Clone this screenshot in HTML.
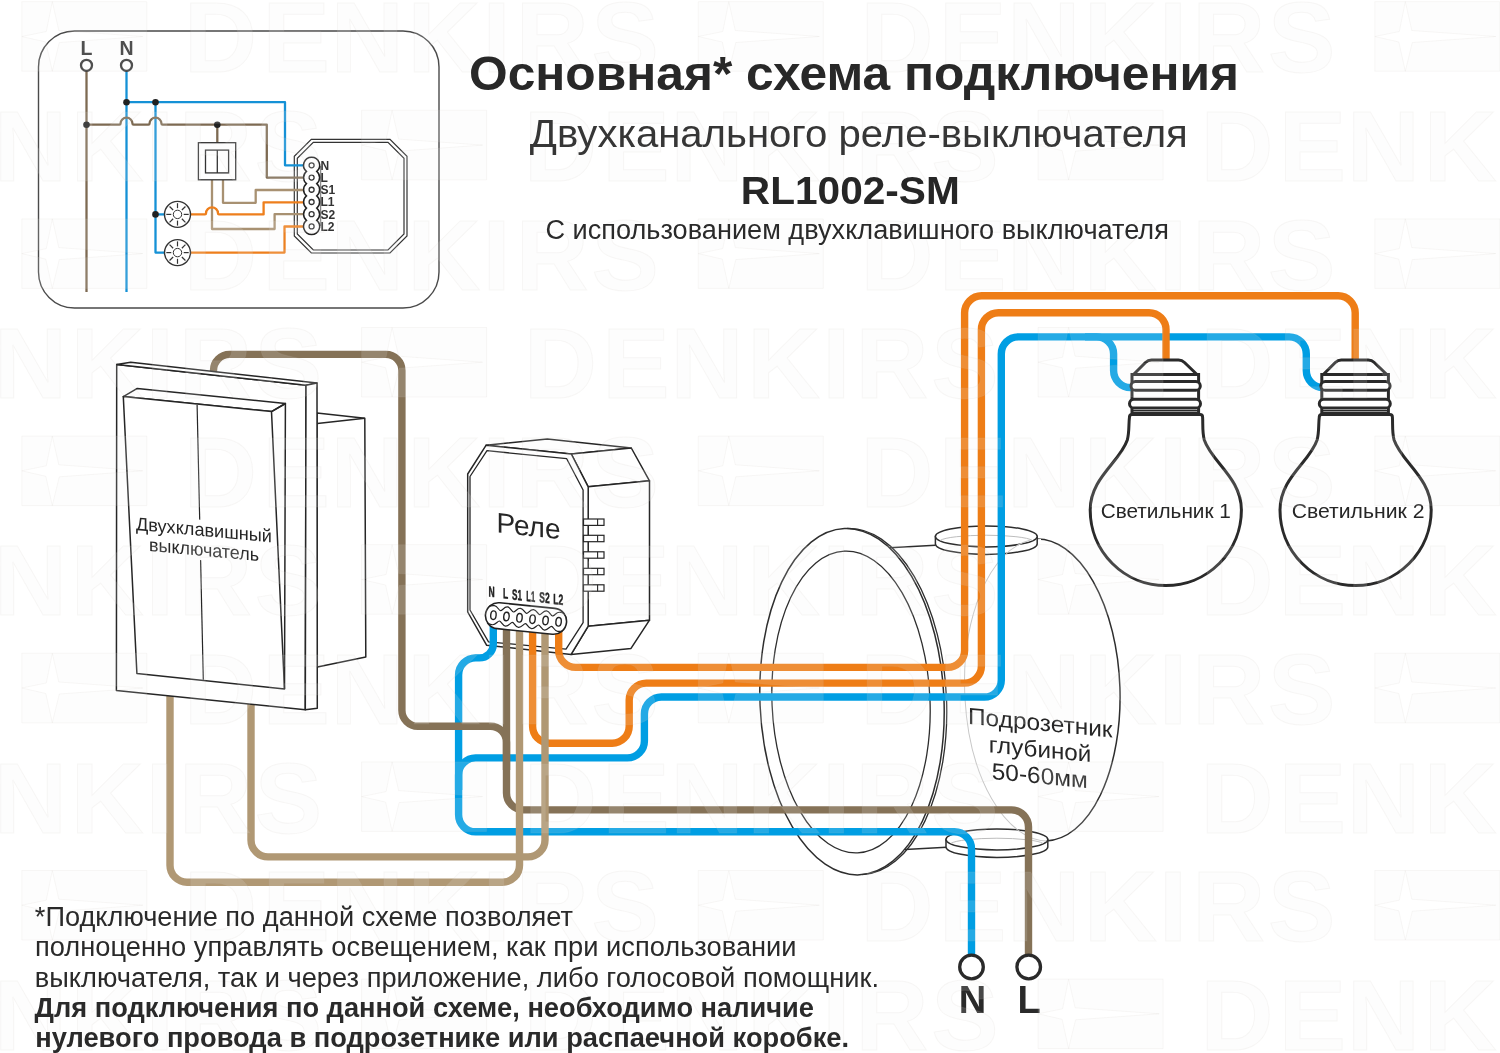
<!DOCTYPE html>
<html><head><meta charset="utf-8"><style>
html,body{margin:0;padding:0;background:#fff;overflow:hidden;}
svg{display:block;font-family:"Liberation Sans",sans-serif;will-change:transform;}
</style></head><body>
<svg width="1500" height="1053" viewBox="0 0 1500 1053">
<rect width="1500" height="1053" fill="#ffffff"/>
<rect x="38.5" y="31" width="400.5" height="277" rx="36" fill="#fff" stroke="#4a4a4a" stroke-width="1.4"/>
<path d="M311.3,139.3 H390 L407,156.3 V236 L390,253 H311.3 L294.3,236 V156.3 Z" fill="#fff" stroke="#333" stroke-width="1.2"/>
<path d="M313.3,142.3 H388 L404,158.3 V234 L388,250 H313.3 L297.3,234 V158.3 Z" fill="none" stroke="#333" stroke-width="1.2"/>
<path d="M86.5,71 V292" stroke="#7d6a52" stroke-width="2.3" fill="none" stroke-linejoin="round"/>
<path d="M126.5,71 V292" stroke="#1591d6" stroke-width="2.3" fill="none" stroke-linejoin="round"/>
<path d="M126.5,102.2 H285 V165.3 H304" stroke="#1591d6" stroke-width="2.3" fill="none" stroke-linejoin="round"/>
<path d="M155.5,102.2 V252.6 H165" stroke="#1591d6" stroke-width="2.3" fill="none" stroke-linejoin="round"/>
<path d="M155.5,214.4 H165" stroke="#1591d6" stroke-width="2.3" fill="none" stroke-linejoin="round"/>
<path d="M86.5,124.7 H119.5 Q120.5,124.7 120.5,123.7 A6.0,6.0 0 0 1 132.5,123.7 Q132.5,124.7 133.5,124.7 H148.5 Q149.5,124.7 149.5,123.7 A6.0,6.0 0 0 1 161.5,123.7 Q161.5,124.7 162.5,124.7 H266.8 V177.6 H304" stroke="#7d6a52" stroke-width="2.3" fill="none" stroke-linejoin="round"/>
<path d="M217.3,124.7 V142.7" stroke="#7d6a52" stroke-width="2.3" fill="none" stroke-linejoin="round"/>
<path d="M212,179.8 V229 H274.6 V214.2 H304" stroke="#a89172" stroke-width="2.3" fill="none" stroke-linejoin="round"/>
<path d="M223,179.8 V202.8 H255.7 V190 H304" stroke="#a89172" stroke-width="2.3" fill="none" stroke-linejoin="round"/>
<path d="M190,214.4 H205.0 Q206.0,214.4 206.0,213.4 A6.0,6.0 0 0 1 218.0,213.4 Q218.0,214.4 219.0,214.4 H263.6 V202.3 H304" stroke="#ee7f1c" stroke-width="2.3" fill="none" stroke-linejoin="round"/>
<path d="M190,252.6 H284.5 V226.5 H304" stroke="#ee7f1c" stroke-width="2.3" fill="none" stroke-linejoin="round"/>
<circle cx="126.5" cy="102.2" r="3.3" fill="#222"/>
<circle cx="155.5" cy="102.2" r="3.3" fill="#222"/>
<circle cx="86.5" cy="124.7" r="3.3" fill="#222"/>
<circle cx="217.3" cy="124.7" r="3.3" fill="#222"/>
<circle cx="155.5" cy="214.4" r="3.3" fill="#222"/>
<circle cx="86.5" cy="65.3" r="5.5" fill="#fff" stroke="#333" stroke-width="2.3"/>
<text x="86.5" y="55.2" font-size="19.5" font-weight="700" text-anchor="middle" fill="#333">L</text>
<circle cx="126.5" cy="65.3" r="5.5" fill="#fff" stroke="#333" stroke-width="2.3"/>
<text x="126.5" y="55.2" font-size="19.5" font-weight="700" text-anchor="middle" fill="#333">N</text>
<rect x="198.4" y="142.7" width="37.3" height="37.1" fill="#fff" stroke="#333" stroke-width="1.3"/>
<rect x="205.5" y="150.1" width="23.1" height="22.8" fill="#fff" stroke="#333" stroke-width="1.3"/>
<path d="M217.3,150.1 V172.9" stroke="#333" stroke-width="1.3"/>
<circle cx="177.5" cy="214.4" r="13" fill="#fff" stroke="#333" stroke-width="1.4"/>
<circle cx="177.5" cy="214.4" r="4.2" fill="none" stroke="#333" stroke-width="1"/>
<path d="M183.70,214.40 L188.70,214.40" stroke="#333" stroke-width="1.2"/>
<path d="M181.88,218.78 L185.42,222.32" stroke="#333" stroke-width="1.2"/>
<path d="M177.50,220.60 L177.50,225.60" stroke="#333" stroke-width="1.2"/>
<path d="M173.12,218.78 L169.58,222.32" stroke="#333" stroke-width="1.2"/>
<path d="M171.30,214.40 L166.30,214.40" stroke="#333" stroke-width="1.2"/>
<path d="M173.12,210.02 L169.58,206.48" stroke="#333" stroke-width="1.2"/>
<path d="M177.50,208.20 L177.50,203.20" stroke="#333" stroke-width="1.2"/>
<path d="M181.88,210.02 L185.42,206.48" stroke="#333" stroke-width="1.2"/>
<circle cx="177.5" cy="252.6" r="13" fill="#fff" stroke="#333" stroke-width="1.4"/>
<circle cx="177.5" cy="252.6" r="4.2" fill="none" stroke="#333" stroke-width="1"/>
<path d="M183.70,252.60 L188.70,252.60" stroke="#333" stroke-width="1.2"/>
<path d="M181.88,256.98 L185.42,260.52" stroke="#333" stroke-width="1.2"/>
<path d="M177.50,258.80 L177.50,263.80" stroke="#333" stroke-width="1.2"/>
<path d="M173.12,256.98 L169.58,260.52" stroke="#333" stroke-width="1.2"/>
<path d="M171.30,252.60 L166.30,252.60" stroke="#333" stroke-width="1.2"/>
<path d="M173.12,248.22 L169.58,244.68" stroke="#333" stroke-width="1.2"/>
<path d="M177.50,246.40 L177.50,241.40" stroke="#333" stroke-width="1.2"/>
<path d="M181.88,248.22 L185.42,244.68" stroke="#333" stroke-width="1.2"/>
<path d="M320.6,166 V226" stroke="#8a8a8a" stroke-width="1.3"/>
<path d="M311.6,157.3 A8.0,8.0 0 0 1 316.76,171.42 A8.0,8.0 0 0 1 316.76,183.64 A8.0,8.0 0 0 1 316.76,195.88 A8.0,8.0 0 0 1 316.76,208.11 A8.0,8.0 0 0 1 316.76,220.34 A8.0,8.0 0 0 1 311.6,234.45000000000002 A8.0,8.0 0 0 1 306.44,220.34 A8.0,8.0 0 0 1 306.44,208.11 A8.0,8.0 0 0 1 306.44,195.88 A8.0,8.0 0 0 1 306.44,183.65 A8.0,8.0 0 0 1 306.44,171.42 A8.0,8.0 0 0 1 311.6,157.3 Z" fill="#fff" stroke="#222" stroke-width="1.5"/>
<circle cx="311.6" cy="165.30" r="2.5" fill="#fff" stroke="#333" stroke-width="1.3"/>
<text x="320.5" y="169.70" font-size="12" font-weight="700" fill="#333">N</text>
<circle cx="311.6" cy="177.53" r="2.5" fill="#fff" stroke="#333" stroke-width="1.3"/>
<text x="320.5" y="181.93" font-size="12" font-weight="700" fill="#333">L</text>
<circle cx="311.6" cy="189.76" r="2.5" fill="#fff" stroke="#333" stroke-width="1.3"/>
<text x="320.5" y="194.16" font-size="12" font-weight="700" fill="#333">S1</text>
<circle cx="311.6" cy="201.99" r="2.5" fill="#fff" stroke="#333" stroke-width="1.3"/>
<text x="320.5" y="206.39" font-size="12" font-weight="700" fill="#333">L1</text>
<circle cx="311.6" cy="214.22" r="2.5" fill="#fff" stroke="#333" stroke-width="1.3"/>
<text x="320.5" y="218.62" font-size="12" font-weight="700" fill="#333">S2</text>
<circle cx="311.6" cy="226.45" r="2.5" fill="#fff" stroke="#333" stroke-width="1.3"/>
<text x="320.5" y="230.85" font-size="12" font-weight="700" fill="#333">L2</text>
<g transform="rotate(-2 1041 690)"><path d="M1041,539 A79,151 0 0 1 1041,841" fill="#fff" stroke="#2e2e2e" stroke-width="1.5"/><path d="M1041,539 A79,151 0 0 0 1041,841" fill="none" stroke="#c4c4c4" stroke-width="1"/></g>
<path d="M880,548 L936,545 L1041,539 L1047,841 L946.5,847.5 L905,850 Z" fill="#fff" stroke="none"/>
<path d="M885,548 L935.5,545.3" stroke="#2e2e2e" stroke-width="1.5"/>
<path d="M905,849.6 L946.5,847.3" stroke="#2e2e2e" stroke-width="1.5"/>
<path d="M935.4,536.4 V543.9 A50.9,10.5 0 0 0 1037.2,543.9 V536.4 Z" fill="#fff" stroke="#2e2e2e" stroke-width="1.5"/>
<ellipse cx="986.3" cy="536.4" rx="50.9" ry="10.5" fill="#fff" stroke="#2e2e2e" stroke-width="1.5"/>
<path d="M940.3,540.4 A47,6.5 0 0 1 1032.3,540.4" fill="none" stroke="#bdbdbd" stroke-width="1"/>
<path d="M946.0,839.4 V846.9 A50.9,10.5 0 0 0 1047.8,846.9 V839.4 Z" fill="#fff" stroke="#2e2e2e" stroke-width="1.5"/>
<ellipse cx="996.9" cy="839.4" rx="50.9" ry="10.5" fill="#fff" stroke="#2e2e2e" stroke-width="1.5"/>
<path d="M950.9,843.4 A47,6.5 0 0 1 1042.9,843.4" fill="none" stroke="#bdbdbd" stroke-width="1"/>
<g transform="rotate(-2 1041 690)"><path d="M1035,540 A79,151 0 0 0 1041,841" fill="none" stroke="#c8c8c8" stroke-width="1"/></g>
<g transform="rotate(-2.5 852 701.7)"><ellipse cx="852" cy="701.7" rx="92" ry="173.3" fill="#fff" stroke="#2e2e2e" stroke-width="1.5"/><path d="M852,528.4 A92,173.3 0 0 1 852,875" transform="translate(2.6,0)" fill="none" stroke="#2e2e2e" stroke-width="1.3"/><ellipse cx="851" cy="702" rx="79" ry="151" fill="none" stroke="#2e2e2e" stroke-width="1.3"/></g>
<path d="M486,445.3 L547.3,439 L631.3,448 L571.3,454 Z" fill="#fff" stroke="#262626" stroke-width="1.5" stroke-linejoin="round"/>
<path d="M571.3,454 L631.3,448 L649.5,480.8 L588.2,486.8 Z" fill="#fff" stroke="#262626" stroke-width="1.5" stroke-linejoin="round"/>
<path d="M588.2,486.8 L649.5,480.8 L649.5,620.2 L588.2,626.2 Z" fill="#fff" stroke="#262626" stroke-width="1.5" stroke-linejoin="round"/>
<path d="M588.2,626.2 L649.5,620.2 L631,648.4 L571.1,654.4 Z" fill="#fff" stroke="#262626" stroke-width="1.5" stroke-linejoin="round"/>
<path d="M467.7,474 L486,445.3 L571.3,454 L588.2,486.8 L588.2,626.2 L571.1,654.4 L486.7,645.3 L467.7,612 Z" fill="#fff" stroke="#262626" stroke-width="1.5" stroke-linejoin="round"/>
<path d="M470,476.5 L487,450.7 L566.7,458.7 L583.1,490 L583.1,622.7 L566,649.2 L488.5,641.8 L470,610 Z" fill="none" stroke="#262626" stroke-width="1.3" stroke-linejoin="round"/>
<rect x="583.5" y="519.0" width="20.5" height="6.4" fill="#fff" stroke="#262626" stroke-width="1.2"/>
<path d="M597.6,519.0 V525.4000000000001" stroke="#262626" stroke-width="1.1"/>
<rect x="583.5" y="535.3" width="20.5" height="6.4" fill="#fff" stroke="#262626" stroke-width="1.2"/>
<path d="M597.6,535.3 V541.7" stroke="#262626" stroke-width="1.1"/>
<rect x="583.5" y="551.8" width="20.5" height="6.4" fill="#fff" stroke="#262626" stroke-width="1.2"/>
<path d="M597.6,551.8 V558.2" stroke="#262626" stroke-width="1.1"/>
<rect x="583.5" y="568.3" width="20.5" height="6.4" fill="#fff" stroke="#262626" stroke-width="1.2"/>
<path d="M597.6,568.3 V574.7" stroke="#262626" stroke-width="1.1"/>
<rect x="583.5" y="584.8" width="20.5" height="6.4" fill="#fff" stroke="#262626" stroke-width="1.2"/>
<path d="M597.6,584.8 V591.2" stroke="#262626" stroke-width="1.1"/>
<text transform="translate(496.5,532.3) skewY(6)" font-size="28.2" fill="#262626" textLength="64" lengthAdjust="spacingAndGlyphs">Реле</text>
<path d="M493.3,624 L493.30,643.90 A14,14 0 0 1 479.30,657.90 L475.60,657.90 A17,17 0 0 0 458.60,674.90 L458.60,814.80 A17,17 0 0 0 475.60,831.80 L954.50,831.80 A17,17 0 0 1 971.50,848.80 L971.5,955" fill="none" stroke="#009ee3" stroke-width="7.4"/>
<path d="M458.6,790 L458.60,774.90 A17,17 0 0 1 475.60,757.90 L627.40,757.90 A17,17 0 0 0 644.40,740.90 L644.40,714.00 A17,17 0 0 1 661.40,697.00 L984.30,697.00 A17,17 0 0 0 1001.30,680.00 L1001.30,353.90 A17,17 0 0 1 1018.30,336.90 L1289.30,336.90 A17,17 0 0 1 1306.30,353.90 L1306.30,370.50 A17,17 0 0 0 1323.30,387.50 L1336,387.5" fill="none" stroke="#009ee3" stroke-width="7.4"/>
<path d="M1085,336.9 L1096.60,336.90 A17,17 0 0 1 1113.60,353.90 L1113.60,370.50 A17,17 0 0 0 1130.60,387.50 L1140,387.5" fill="none" stroke="#009ee3" stroke-width="7.4"/>
<path d="M506.5,624 L506.50,792.90 A17,17 0 0 0 523.50,809.90 L1011.50,809.90 A17,17 0 0 1 1028.50,826.90 L1028.5,955" fill="none" stroke="#857257" stroke-width="7.4"/>
<path d="M213.5,385 L213.50,370.40 A16,16 0 0 1 229.50,354.40 L385.90,354.40 A16,16 0 0 1 401.90,370.40 L401.90,710.30 A16,16 0 0 0 417.90,726.30 L490.50,726.30 A16,16 0 0 1 506.50,742.30 L506.5,770" fill="none" stroke="#857257" stroke-width="7.4"/>
<path d="M532.6,624 L532.60,726.20 A17,17 0 0 0 549.60,743.20 L612.20,743.20 A17,17 0 0 0 629.20,726.20 L629.20,700.10 A17,17 0 0 1 646.20,683.10 L964.40,683.10 A17,17 0 0 0 981.40,666.10 L981.40,329.70 A17,17 0 0 1 998.40,312.70 L1149.00,312.70 A17,17 0 0 1 1166.00,329.70 L1166,368" fill="none" stroke="#ee7d16" stroke-width="7.4"/>
<path d="M558.7,624 L558.70,650.40 A17,17 0 0 0 575.70,667.40 L947.60,667.40 A17,17 0 0 0 964.60,650.40 L964.60,312.80 A17,17 0 0 1 981.60,295.80 L1338.20,295.80 A17,17 0 0 1 1355.20,312.80 L1355.2,368" fill="none" stroke="#ee7d16" stroke-width="7.4"/>
<path d="M519.5,624 L519.50,865.20 A17,17 0 0 1 502.50,882.20 L187.00,882.20 A17,17 0 0 1 170.00,865.20 L170,680" fill="none" stroke="#b09874" stroke-width="7.4"/>
<path d="M545,624 L545.00,839.90 A17,17 0 0 1 528.00,856.90 L268.00,856.90 A17,17 0 0 1 251.00,839.90 L251,690" fill="none" stroke="#b09874" stroke-width="7.4"/>
<g transform="rotate(5.8 526 618.5)">
<rect x="485.3" y="605.5" width="81.4" height="26" rx="13" fill="#fff" stroke="#222" stroke-width="1.6"/>
<path d="M487.75,610.3 Q490.25,608.9 493.25,608.9 C496.55,608.9 497.985,613.3 499.8,613.3 C501.615,613.3 503.05,608.9 506.35,608.9 C509.65000000000003,608.9 511.0850000000001,613.3 512.9000000000001,613.3 C514.7150000000001,613.3 516.1500000000001,608.9 519.45,608.9 C522.75,608.9 524.185,613.3 526.0,613.3 C527.815,613.3 529.25,608.9 532.55,608.9 C535.8499999999999,608.9 537.2849999999999,613.3 539.0999999999999,613.3 C540.915,613.3 542.35,608.9 545.65,608.9 C548.9499999999999,608.9 550.385,613.3 552.2,613.3 C554.0150000000001,613.3 555.45,608.9 558.75,608.9 Q561.75,608.9 564.25,610.3" fill="none" stroke="#222" stroke-width="1.2"/>
<path d="M487.75,626.7 Q490.25,628.1 493.25,628.1 C496.55,628.1 497.985,623.7 499.8,623.7 C501.615,623.7 503.05,628.1 506.35,628.1 C509.65000000000003,628.1 511.0850000000001,623.7 512.9000000000001,623.7 C514.7150000000001,623.7 516.1500000000001,628.1 519.45,628.1 C522.75,628.1 524.185,623.7 526.0,623.7 C527.815,623.7 529.25,628.1 532.55,628.1 C535.8499999999999,628.1 537.2849999999999,623.7 539.0999999999999,623.7 C540.915,623.7 542.35,628.1 545.65,628.1 C548.9499999999999,628.1 550.385,623.7 552.2,623.7 C554.0150000000001,623.7 555.45,628.1 558.75,628.1 Q561.75,628.1 564.25,626.7" fill="none" stroke="#222" stroke-width="1.2"/>
<ellipse cx="493.25" cy="618.5" rx="2.7" ry="4.3" fill="none" stroke="#222" stroke-width="1.4"/>
<ellipse cx="506.35" cy="618.5" rx="2.7" ry="4.3" fill="none" stroke="#222" stroke-width="1.4"/>
<ellipse cx="519.45" cy="618.5" rx="2.7" ry="4.3" fill="none" stroke="#222" stroke-width="1.4"/>
<ellipse cx="532.55" cy="618.5" rx="2.7" ry="4.3" fill="none" stroke="#222" stroke-width="1.4"/>
<ellipse cx="545.65" cy="618.5" rx="2.7" ry="4.3" fill="none" stroke="#222" stroke-width="1.4"/>
<ellipse cx="558.75" cy="618.5" rx="2.7" ry="4.3" fill="none" stroke="#222" stroke-width="1.4"/>
</g>
<text transform="translate(491.7,596.7) skewY(5.8)" font-size="14.8" font-weight="700" fill="#222" stroke="#222" stroke-width="0.45" text-anchor="middle" textLength="6.2" lengthAdjust="spacingAndGlyphs">N</text>
<text transform="translate(505.6,598.6) skewY(5.8)" font-size="14.8" font-weight="700" fill="#222" stroke="#222" stroke-width="0.45" text-anchor="middle" textLength="5.2" lengthAdjust="spacingAndGlyphs">L</text>
<text transform="translate(517,600) skewY(5.8)" font-size="14.8" font-weight="700" fill="#222" stroke="#222" stroke-width="0.45" text-anchor="middle" textLength="10" lengthAdjust="spacingAndGlyphs">S1</text>
<text transform="translate(530.7,601.4) skewY(5.8)" font-size="14.8" font-weight="700" fill="#222" stroke="#222" stroke-width="0.45" text-anchor="middle" textLength="8.8" lengthAdjust="spacingAndGlyphs">L1</text>
<text transform="translate(544.5,602.8) skewY(5.8)" font-size="14.8" font-weight="700" fill="#222" stroke="#222" stroke-width="0.45" text-anchor="middle" textLength="10.4" lengthAdjust="spacingAndGlyphs">S2</text>
<text transform="translate(558.3,604.6) skewY(5.8)" font-size="14.8" font-weight="700" fill="#222" stroke="#222" stroke-width="0.45" text-anchor="middle" textLength="10" lengthAdjust="spacingAndGlyphs">L2</text>
<path d="M317,412.9 L364.8,418.2 L365.8,657 L317.3,667 Z" fill="#fff" stroke="#262626" stroke-width="1.5" stroke-linejoin="round"/>
<path d="M317.3,423.6 L364.8,418.2" stroke="#262626" stroke-width="1.5"/>
<path d="M116.7,364.4 L306,385.2 L305.3,709.7 L116.4,690.6 Z" fill="#fff" stroke="#262626" stroke-width="1.5" stroke-linejoin="round"/>
<path d="M116.7,364.4 L130.7,362.2 L317,383 L306,385.2 Z" fill="#fff" stroke="#262626" stroke-width="1.5" stroke-linejoin="round"/>
<path d="M306,385.2 L317,383 L317.3,708.3 L305.3,709.7 Z" fill="#fff" stroke="#262626" stroke-width="1.5" stroke-linejoin="round"/>
<path d="M123.3,396.6 L137.3,388.4 L285.4,403.5 L271.5,411.6 Z" fill="#fff" stroke="#262626" stroke-width="1.5" stroke-linejoin="round"/>
<path d="M123.3,396.6 L271.5,411.6 L284.5,688.9 L136.9,673.5 Z" fill="#fff" stroke="#262626" stroke-width="1.5" stroke-linejoin="round"/>
<path d="M271.5,411.6 L285.4,403.5 L284.5,688.9" fill="none" stroke="#262626" stroke-width="1.5" stroke-linejoin="round"/>
<path d="M197.1,405 L203.3,679.8" stroke="#262626" stroke-width="1.2"/>
<path d="M193,519 L209,520.5 L210,561 L194,559.5 Z" fill="#fff"/>
<g transform="translate(204,546) skewY(5.2) translate(-204,-546)" font-size="18.4" fill="#262626" text-anchor="middle" stroke="#fff" stroke-width="5" paint-order="stroke"><text x="204" y="536.2" textLength="136" lengthAdjust="spacingAndGlyphs">Двухклавишный</text><text x="204" y="556" textLength="110" lengthAdjust="spacingAndGlyphs">выключатель</text></g>
<g transform="translate(0,0)"><path d="M1132,414.5 Q1129.5,414.5 1129.5,417 C1128.5,424 1129.5,432 1127.3,440 C1120,462 1090.2,478 1090.2,510 A75.6,75.6 0 0 0 1241.4,510 C1241.4,478 1211.6,462 1204.3,440 C1202.1,432 1203.1,424 1202.6,417 Q1202.6,414.5 1200,414.5 Z" fill="#fff" stroke="#2a2a2a" stroke-width="3"/><path d="M1133,375 L1145.5,362.5 Q1148,360 1151.5,360 H1178.5 Q1182,360 1184.5,362.5 L1197.5,375 Z" fill="#fff" stroke="#2a2a2a" stroke-width="3" stroke-linejoin="round"/><rect x="1132" y="374.5" width="66.6" height="39" fill="#fff" stroke="#2a2a2a" stroke-width="3"/><rect x="1131" y="381.5" width="69.3" height="8.8" rx="4.4" fill="#fff" stroke="#2a2a2a" stroke-width="3"/><rect x="1129.5" y="399.3" width="71" height="8.8" rx="4.4" fill="#fff" stroke="#2a2a2a" stroke-width="3"/><path d="M1132,410.8 H1198.6" stroke="#2a2a2a" stroke-width="1.6"/><text x="1165.8" y="517.8" font-size="20.5" fill="#262626" text-anchor="middle" textLength="130.2" lengthAdjust="spacingAndGlyphs">Светильник 1</text></g>
<g transform="translate(189.8,0)"><path d="M1132,414.5 Q1129.5,414.5 1129.5,417 C1128.5,424 1129.5,432 1127.3,440 C1120,462 1090.2,478 1090.2,510 A75.6,75.6 0 0 0 1241.4,510 C1241.4,478 1211.6,462 1204.3,440 C1202.1,432 1203.1,424 1202.6,417 Q1202.6,414.5 1200,414.5 Z" fill="#fff" stroke="#2a2a2a" stroke-width="3"/><path d="M1133,375 L1145.5,362.5 Q1148,360 1151.5,360 H1178.5 Q1182,360 1184.5,362.5 L1197.5,375 Z" fill="#fff" stroke="#2a2a2a" stroke-width="3" stroke-linejoin="round"/><rect x="1132" y="374.5" width="66.6" height="39" fill="#fff" stroke="#2a2a2a" stroke-width="3"/><rect x="1131" y="381.5" width="69.3" height="8.8" rx="4.4" fill="#fff" stroke="#2a2a2a" stroke-width="3"/><rect x="1129.5" y="399.3" width="71" height="8.8" rx="4.4" fill="#fff" stroke="#2a2a2a" stroke-width="3"/><path d="M1132,410.8 H1198.6" stroke="#2a2a2a" stroke-width="1.6"/><text x="1168.3" y="517.8" font-size="20.5" fill="#262626" text-anchor="middle" textLength="132.8" lengthAdjust="spacingAndGlyphs">Светильник 2</text></g>
<circle cx="971.5" cy="967" r="11.8" fill="#fff" stroke="#2a2a2a" stroke-width="3.3"/>
<text x="972.6" y="1013" font-size="38" font-weight="700" fill="#2a2a2a" text-anchor="middle">N</text>
<circle cx="1028.7" cy="967" r="11.8" fill="#fff" stroke="#2a2a2a" stroke-width="3.3"/>
<text x="1029" y="1013" font-size="38" font-weight="700" fill="#2a2a2a" text-anchor="middle">L</text>
<g transform="translate(1040,757) skewY(5.4) translate(-1040,-757)" font-size="23.2" fill="#262626" text-anchor="middle"><text x="1040.3" y="730.6" textLength="144.5" lengthAdjust="spacingAndGlyphs">Подрозетник</text><text x="1040" y="757.2" textLength="102.5" lengthAdjust="spacingAndGlyphs">глубиной</text><text x="1039.8" y="783.6" textLength="96" lengthAdjust="spacingAndGlyphs">50-60мм</text></g>
<g font-size="101" font-weight="700" fill="#eff1f1" fill-opacity="0.15" stroke="#c8beb4" stroke-opacity="0.12" stroke-width="1"><path fill-rule="evenodd" d="M21.8,1.7 h125 v69.5 h-125 Z M52.3,1.7 L58.8,30.5 L142.8,36.5 L59.3,42.5 L52.3,71.2 L45.8,42.0 L21.8,36.5 L46.3,31.5 Z"/><text x="184.1" y="72.4">D</text><text x="262.4" y="72.4">E</text><text x="330.8" y="72.4">N</text><text x="407.4" y="72.4">K</text><text x="482.4" y="72.4">I</text><text x="515.8" y="72.4">R</text><text x="591.5" y="72.4">S</text><path fill-rule="evenodd" d="M698.3,1.7 h125 v69.5 h-125 Z M728.8,1.7 L735.3,30.5 L819.3,36.5 L735.8,42.5 L728.8,71.2 L722.3,42.0 L698.3,36.5 L722.8,31.5 Z"/><text x="860.6" y="72.4">D</text><text x="938.9" y="72.4">E</text><text x="1007.3" y="72.4">N</text><text x="1083.9" y="72.4">K</text><text x="1158.9" y="72.4">I</text><text x="1192.3" y="72.4">R</text><text x="1268.0" y="72.4">S</text><path fill-rule="evenodd" d="M1374.8,1.7 h125 v69.5 h-125 Z M1405.3,1.7 L1411.8,30.5 L1495.8,36.5 L1412.3,42.5 L1405.3,71.2 L1398.8,42.0 L1374.8,36.5 L1399.3,31.5 Z"/><text x="-74.3" y="181.0">E</text><text x="-5.9" y="181.0">N</text><text x="70.7" y="181.0">K</text><text x="145.7" y="181.0">I</text><text x="179.1" y="181.0">R</text><text x="254.8" y="181.0">S</text><path fill-rule="evenodd" d="M361.6,110.3 h125 v69.5 h-125 Z M392.1,110.3 L398.6,139.1 L482.6,145.1 L399.1,151.1 L392.1,179.8 L385.6,150.6 L361.6,145.1 L386.1,140.1 Z"/><text x="523.9" y="181.0">D</text><text x="602.2" y="181.0">E</text><text x="670.6" y="181.0">N</text><text x="747.2" y="181.0">K</text><text x="822.2" y="181.0">I</text><text x="855.6" y="181.0">R</text><text x="931.3" y="181.0">S</text><path fill-rule="evenodd" d="M1038.1,110.3 h125 v69.5 h-125 Z M1068.6,110.3 L1075.1,139.1 L1159.1,145.1 L1075.6,151.1 L1068.6,179.8 L1062.1,150.6 L1038.1,145.1 L1062.6,140.1 Z"/><text x="1200.4" y="181.0">D</text><text x="1278.7" y="181.0">E</text><text x="1347.1" y="181.0">N</text><text x="1423.7" y="181.0">K</text><text x="1498.7" y="181.0">I</text><path fill-rule="evenodd" d="M21.8,218.9 h125 v69.5 h-125 Z M52.3,218.9 L58.8,247.6 L142.8,253.6 L59.3,259.6 L52.3,288.4 L45.8,259.1 L21.8,253.6 L46.3,248.6 Z"/><text x="184.1" y="289.6">D</text><text x="262.4" y="289.6">E</text><text x="330.8" y="289.6">N</text><text x="407.4" y="289.6">K</text><text x="482.4" y="289.6">I</text><text x="515.8" y="289.6">R</text><text x="591.5" y="289.6">S</text><path fill-rule="evenodd" d="M698.3,218.9 h125 v69.5 h-125 Z M728.8,218.9 L735.3,247.6 L819.3,253.6 L735.8,259.6 L728.8,288.4 L722.3,259.1 L698.3,253.6 L722.8,248.6 Z"/><text x="860.6" y="289.6">D</text><text x="938.9" y="289.6">E</text><text x="1007.3" y="289.6">N</text><text x="1083.9" y="289.6">K</text><text x="1158.9" y="289.6">I</text><text x="1192.3" y="289.6">R</text><text x="1268.0" y="289.6">S</text><path fill-rule="evenodd" d="M1374.8,218.9 h125 v69.5 h-125 Z M1405.3,218.9 L1411.8,247.6 L1495.8,253.6 L1412.3,259.6 L1405.3,288.4 L1398.8,259.1 L1374.8,253.6 L1399.3,248.6 Z"/><text x="-74.3" y="398.2">E</text><text x="-5.9" y="398.2">N</text><text x="70.7" y="398.2">K</text><text x="145.7" y="398.2">I</text><text x="179.1" y="398.2">R</text><text x="254.8" y="398.2">S</text><path fill-rule="evenodd" d="M361.6,327.5 h125 v69.5 h-125 Z M392.1,327.5 L398.6,356.2 L482.6,362.2 L399.1,368.2 L392.1,397.0 L385.6,367.7 L361.6,362.2 L386.1,357.2 Z"/><text x="523.9" y="398.2">D</text><text x="602.2" y="398.2">E</text><text x="670.6" y="398.2">N</text><text x="747.2" y="398.2">K</text><text x="822.2" y="398.2">I</text><text x="855.6" y="398.2">R</text><text x="931.3" y="398.2">S</text><path fill-rule="evenodd" d="M1038.1,327.5 h125 v69.5 h-125 Z M1068.6,327.5 L1075.1,356.2 L1159.1,362.2 L1075.6,368.2 L1068.6,397.0 L1062.1,367.7 L1038.1,362.2 L1062.6,357.2 Z"/><text x="1200.4" y="398.2">D</text><text x="1278.7" y="398.2">E</text><text x="1347.1" y="398.2">N</text><text x="1423.7" y="398.2">K</text><text x="1498.7" y="398.2">I</text><path fill-rule="evenodd" d="M21.8,436.1 h125 v69.5 h-125 Z M52.3,436.1 L58.8,464.8 L142.8,470.8 L59.3,476.8 L52.3,505.6 L45.8,476.3 L21.8,470.8 L46.3,465.8 Z"/><text x="184.1" y="506.8">D</text><text x="262.4" y="506.8">E</text><text x="330.8" y="506.8">N</text><text x="407.4" y="506.8">K</text><text x="482.4" y="506.8">I</text><text x="515.8" y="506.8">R</text><text x="591.5" y="506.8">S</text><path fill-rule="evenodd" d="M698.3,436.1 h125 v69.5 h-125 Z M728.8,436.1 L735.3,464.8 L819.3,470.8 L735.8,476.8 L728.8,505.6 L722.3,476.3 L698.3,470.8 L722.8,465.8 Z"/><text x="860.6" y="506.8">D</text><text x="938.9" y="506.8">E</text><text x="1007.3" y="506.8">N</text><text x="1083.9" y="506.8">K</text><text x="1158.9" y="506.8">I</text><text x="1192.3" y="506.8">R</text><text x="1268.0" y="506.8">S</text><path fill-rule="evenodd" d="M1374.8,436.1 h125 v69.5 h-125 Z M1405.3,436.1 L1411.8,464.8 L1495.8,470.8 L1412.3,476.8 L1405.3,505.6 L1398.8,476.3 L1374.8,470.8 L1399.3,465.8 Z"/><text x="-74.3" y="615.4">E</text><text x="-5.9" y="615.4">N</text><text x="70.7" y="615.4">K</text><text x="145.7" y="615.4">I</text><text x="179.1" y="615.4">R</text><text x="254.8" y="615.4">S</text><path fill-rule="evenodd" d="M361.6,544.7 h125 v69.5 h-125 Z M392.1,544.7 L398.6,573.5 L482.6,579.5 L399.1,585.5 L392.1,614.2 L385.6,585.0 L361.6,579.5 L386.1,574.5 Z"/><text x="523.9" y="615.4">D</text><text x="602.2" y="615.4">E</text><text x="670.6" y="615.4">N</text><text x="747.2" y="615.4">K</text><text x="822.2" y="615.4">I</text><text x="855.6" y="615.4">R</text><text x="931.3" y="615.4">S</text><path fill-rule="evenodd" d="M1038.1,544.7 h125 v69.5 h-125 Z M1068.6,544.7 L1075.1,573.5 L1159.1,579.5 L1075.6,585.5 L1068.6,614.2 L1062.1,585.0 L1038.1,579.5 L1062.6,574.5 Z"/><text x="1200.4" y="615.4">D</text><text x="1278.7" y="615.4">E</text><text x="1347.1" y="615.4">N</text><text x="1423.7" y="615.4">K</text><text x="1498.7" y="615.4">I</text><path fill-rule="evenodd" d="M21.8,653.3 h125 v69.5 h-125 Z M52.3,653.3 L58.8,682.0 L142.8,688.0 L59.3,694.0 L52.3,722.8 L45.8,693.5 L21.8,688.0 L46.3,683.0 Z"/><text x="184.1" y="724.0">D</text><text x="262.4" y="724.0">E</text><text x="330.8" y="724.0">N</text><text x="407.4" y="724.0">K</text><text x="482.4" y="724.0">I</text><text x="515.8" y="724.0">R</text><text x="591.5" y="724.0">S</text><path fill-rule="evenodd" d="M698.3,653.3 h125 v69.5 h-125 Z M728.8,653.3 L735.3,682.0 L819.3,688.0 L735.8,694.0 L728.8,722.8 L722.3,693.5 L698.3,688.0 L722.8,683.0 Z"/><text x="860.6" y="724.0">D</text><text x="938.9" y="724.0">E</text><text x="1007.3" y="724.0">N</text><text x="1083.9" y="724.0">K</text><text x="1158.9" y="724.0">I</text><text x="1192.3" y="724.0">R</text><text x="1268.0" y="724.0">S</text><path fill-rule="evenodd" d="M1374.8,653.3 h125 v69.5 h-125 Z M1405.3,653.3 L1411.8,682.0 L1495.8,688.0 L1412.3,694.0 L1405.3,722.8 L1398.8,693.5 L1374.8,688.0 L1399.3,683.0 Z"/><text x="-74.3" y="832.6">E</text><text x="-5.9" y="832.6">N</text><text x="70.7" y="832.6">K</text><text x="145.7" y="832.6">I</text><text x="179.1" y="832.6">R</text><text x="254.8" y="832.6">S</text><path fill-rule="evenodd" d="M361.6,761.9 h125 v69.5 h-125 Z M392.1,761.9 L398.6,790.6 L482.6,796.6 L399.1,802.6 L392.1,831.4 L385.6,802.1 L361.6,796.6 L386.1,791.6 Z"/><text x="523.9" y="832.6">D</text><text x="602.2" y="832.6">E</text><text x="670.6" y="832.6">N</text><text x="747.2" y="832.6">K</text><text x="822.2" y="832.6">I</text><text x="855.6" y="832.6">R</text><text x="931.3" y="832.6">S</text><path fill-rule="evenodd" d="M1038.1,761.9 h125 v69.5 h-125 Z M1068.6,761.9 L1075.1,790.6 L1159.1,796.6 L1075.6,802.6 L1068.6,831.4 L1062.1,802.1 L1038.1,796.6 L1062.6,791.6 Z"/><text x="1200.4" y="832.6">D</text><text x="1278.7" y="832.6">E</text><text x="1347.1" y="832.6">N</text><text x="1423.7" y="832.6">K</text><text x="1498.7" y="832.6">I</text><path fill-rule="evenodd" d="M21.8,870.5 h125 v69.5 h-125 Z M52.3,870.5 L58.8,899.2 L142.8,905.2 L59.3,911.2 L52.3,940.0 L45.8,910.8 L21.8,905.2 L46.3,900.2 Z"/><text x="184.1" y="941.2">D</text><text x="262.4" y="941.2">E</text><text x="330.8" y="941.2">N</text><text x="407.4" y="941.2">K</text><text x="482.4" y="941.2">I</text><text x="515.8" y="941.2">R</text><text x="591.5" y="941.2">S</text><path fill-rule="evenodd" d="M698.3,870.5 h125 v69.5 h-125 Z M728.8,870.5 L735.3,899.2 L819.3,905.2 L735.8,911.2 L728.8,940.0 L722.3,910.8 L698.3,905.2 L722.8,900.2 Z"/><text x="860.6" y="941.2">D</text><text x="938.9" y="941.2">E</text><text x="1007.3" y="941.2">N</text><text x="1083.9" y="941.2">K</text><text x="1158.9" y="941.2">I</text><text x="1192.3" y="941.2">R</text><text x="1268.0" y="941.2">S</text><path fill-rule="evenodd" d="M1374.8,870.5 h125 v69.5 h-125 Z M1405.3,870.5 L1411.8,899.2 L1495.8,905.2 L1412.3,911.2 L1405.3,940.0 L1398.8,910.8 L1374.8,905.2 L1399.3,900.2 Z"/><text x="-74.3" y="1049.8">E</text><text x="-5.9" y="1049.8">N</text><text x="70.7" y="1049.8">K</text><text x="145.7" y="1049.8">I</text><text x="179.1" y="1049.8">R</text><text x="254.8" y="1049.8">S</text><path fill-rule="evenodd" d="M361.6,979.1 h125 v69.5 h-125 Z M392.1,979.1 L398.6,1007.8 L482.6,1013.8 L399.1,1019.8 L392.1,1048.6 L385.6,1019.3 L361.6,1013.8 L386.1,1008.8 Z"/><text x="523.9" y="1049.8">D</text><text x="602.2" y="1049.8">E</text><text x="670.6" y="1049.8">N</text><text x="747.2" y="1049.8">K</text><text x="822.2" y="1049.8">I</text><text x="855.6" y="1049.8">R</text><text x="931.3" y="1049.8">S</text><path fill-rule="evenodd" d="M1038.1,979.1 h125 v69.5 h-125 Z M1068.6,979.1 L1075.1,1007.8 L1159.1,1013.8 L1075.6,1019.8 L1068.6,1048.6 L1062.1,1019.3 L1038.1,1013.8 L1062.6,1008.8 Z"/><text x="1200.4" y="1049.8">D</text><text x="1278.7" y="1049.8">E</text><text x="1347.1" y="1049.8">N</text><text x="1423.7" y="1049.8">K</text><text x="1498.7" y="1049.8">I</text></g>
<text x="469" y="90" font-size="48.5" font-weight="700" fill="#282828" textLength="770" lengthAdjust="spacingAndGlyphs">Основная* схема подключения</text>
<text x="529.8" y="146.7" font-size="39.5" fill="#363636" textLength="658" lengthAdjust="spacingAndGlyphs">Двухканального реле-выключателя</text>
<text x="740.8" y="204" font-size="39.5" font-weight="700" fill="#262626" textLength="219" lengthAdjust="spacingAndGlyphs">RL1002-SM</text>
<text x="545.4" y="238.5" font-size="27" fill="#2a2a2a" textLength="623.5" lengthAdjust="spacingAndGlyphs">С использованием двухклавишного выключателя</text>
<text x="34.8" y="925.9" font-size="27" font-weight="400" fill="#2a2a2a" textLength="538.2" lengthAdjust="spacingAndGlyphs">*Подключение по данной схеме позволяет</text>
<text x="35" y="956" font-size="27" font-weight="400" fill="#2a2a2a" textLength="761.6" lengthAdjust="spacingAndGlyphs">полноценно управлять освещением, как при использовании</text>
<text x="34.7" y="986.5" font-size="27" font-weight="400" fill="#2a2a2a" textLength="844.3" lengthAdjust="spacingAndGlyphs">выключателя, так и через приложение, либо голосовой помощник.</text>
<text x="34.6" y="1016.5" font-size="27" font-weight="700" fill="#2a2a2a" textLength="779.4" lengthAdjust="spacingAndGlyphs">Для подключения по данной схеме, необходимо наличие</text>
<text x="35.2" y="1046.8" font-size="27" font-weight="700" fill="#2a2a2a" textLength="813.9" lengthAdjust="spacingAndGlyphs">нулевого провода в подрозетнике или распаечной коробке.</text>
</svg></body></html>
